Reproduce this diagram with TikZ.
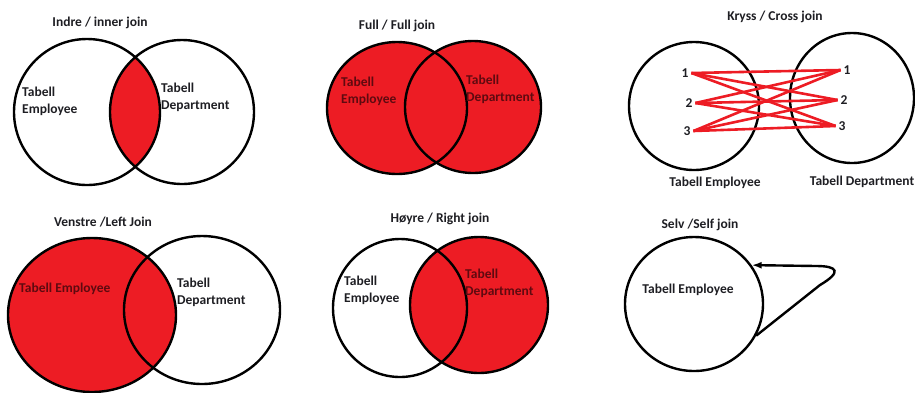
\documentclass[tikz,border=0pt]{standalone}
\usepackage{fontspec}
\setmainfont{Carlito}
\usetikzlibrary{shapes.geometric,arrows.meta}
\definecolor{joinred}{RGB}{237,28,36}
\definecolor{inkred}{RGB}{95,10,16}
\definecolor{inkgray}{RGB}{30,30,35}

\begin{document}
\begin{tikzpicture}[x=1pt,y=1pt]
  \tikzstyle{every node}+=[inner sep=0pt]
  \tikzset{
    ring/.style={black, line width=2.4pt},
    lbl/.style={font=\bfseries\fontsize{13.5}{17}\selectfont, text=inkgray, align=left},
    lblred/.style={lbl, text=inkred},
    num/.style={lbl, outer sep=3pt},
    crossline/.style={joinred, line width=2.6pt},
  }
  \useasboundingbox (0,0) rectangle (915,-392);
  % inner join
  \begin{scope}
    \clip (87,-112) ellipse [x radius=73, y radius=73];
    \fill [joinred] (182,-112) ellipse [x radius=72, y radius=72];
  \end{scope}
  \draw [ring] (87,-112) ellipse [x radius=73, y radius=73];
  \draw [ring] (182,-112) ellipse [x radius=72, y radius=72];
  \node [lbl] (innertitle) at (100,-23) {Indre / inner join};
  \node [lbl, anchor=west] (inneremp) at (22,-101) {Tabell\\Employee};
  \node [lbl, anchor=west] (innerdep) at (161,-97) {Tabell\\Department};
  % full join
  \fill [joinred] (397,-108) ellipse [x radius=70, y radius=66];
  \fill [joinred] (473,-107) ellipse [x radius=68, y radius=66];
  \draw [ring] (397,-108) ellipse [x radius=70, y radius=66];
  \draw [ring] (473,-107) ellipse [x radius=68, y radius=66];
  \node [lbl] (fulltitle) at (397,-26) {Full / Full join};
  \node [lblred, anchor=west] (fullemp) at (341,-91) {Tabell\\Employee};
  \node [lblred, anchor=west] (fulldep) at (466,-89) {Tabell\\Department};
  % cross join
  \draw [ring] (694,-106) ellipse [x radius=65, y radius=64];
  \draw [ring] (852,-98) ellipse [x radius=62, y radius=65];
  \node [lbl] (crosstitle) at (775,-17) {Kryss / Cross join};
  \node [lbl] (crossemp) at (715,-183) {Tabell Employee};
  \node [lbl] (crossdep) at (862,-182) {Tabell Department};
  \node [num] (l1) at (685,-73) {1};
  \node [num] (l2) at (689,-103) {2};
  \node [num] (l3) at (687,-131) {3};
  \node [num] (r1) at (847,-70) {1};
  \node [num] (r2) at (844,-100) {2};
  \node [num] (r3) at (842,-126) {3};
  \foreach \i in {1,2,3}
    \foreach \j in {1,2,3}
      \draw [crossline] (l\i.east) -- (r\j.west);
  % left join
  \fill [joinred] (92,-315) ellipse [x radius=84, y radius=77];
  \draw [ring] (92,-315) ellipse [x radius=84, y radius=77];
  \draw [ring] (202,-310) ellipse [x radius=78, y radius=74];
  \node [lbl] (lefttitle) at (103,-222) {Venstre /Left Join};
  \node [lblred, anchor=west] (leftemp) at (19,-289) {Tabell Employee};
  \node [lbl, anchor=west] (leftdep) at (177,-292) {Tabell\\Department};
  % right join
  \fill [joinred] (479,-305) ellipse [x radius=69, y radius=68];
  \draw [ring] (400,-308) ellipse [x radius=67, y radius=69];
  \draw [ring] (479,-305) ellipse [x radius=69, y radius=68];
  \node [lbl] (righttitle) at (440,-219) {Høyre / Right join};
  \node [lbl, anchor=west] (rightemp) at (344,-290) {Tabell\\Employee};
  \node [lblred, anchor=west] (rightdep) at (465,-283) {Tabell\\Department};
  % self join
  \node [ring, draw, ellipse, minimum width=138pt, minimum height=134pt] (self) at (694,-304) {};
  \node [lbl] (selftitle) at (700,-225) {Selv /Self join};
  \node [lbl] (selfemp) at (688,-290) {Tabell Employee};
  \coordinate (turn) at (820,-285);
  \draw [black, line width=2.4pt, -{Latex[length=10pt,width=7pt]}] (self.333) -- (turn)
    .. controls (842,-272) and (838,-266) .. (816,-266) -- (self.34);
\end{tikzpicture}
\end{document}
